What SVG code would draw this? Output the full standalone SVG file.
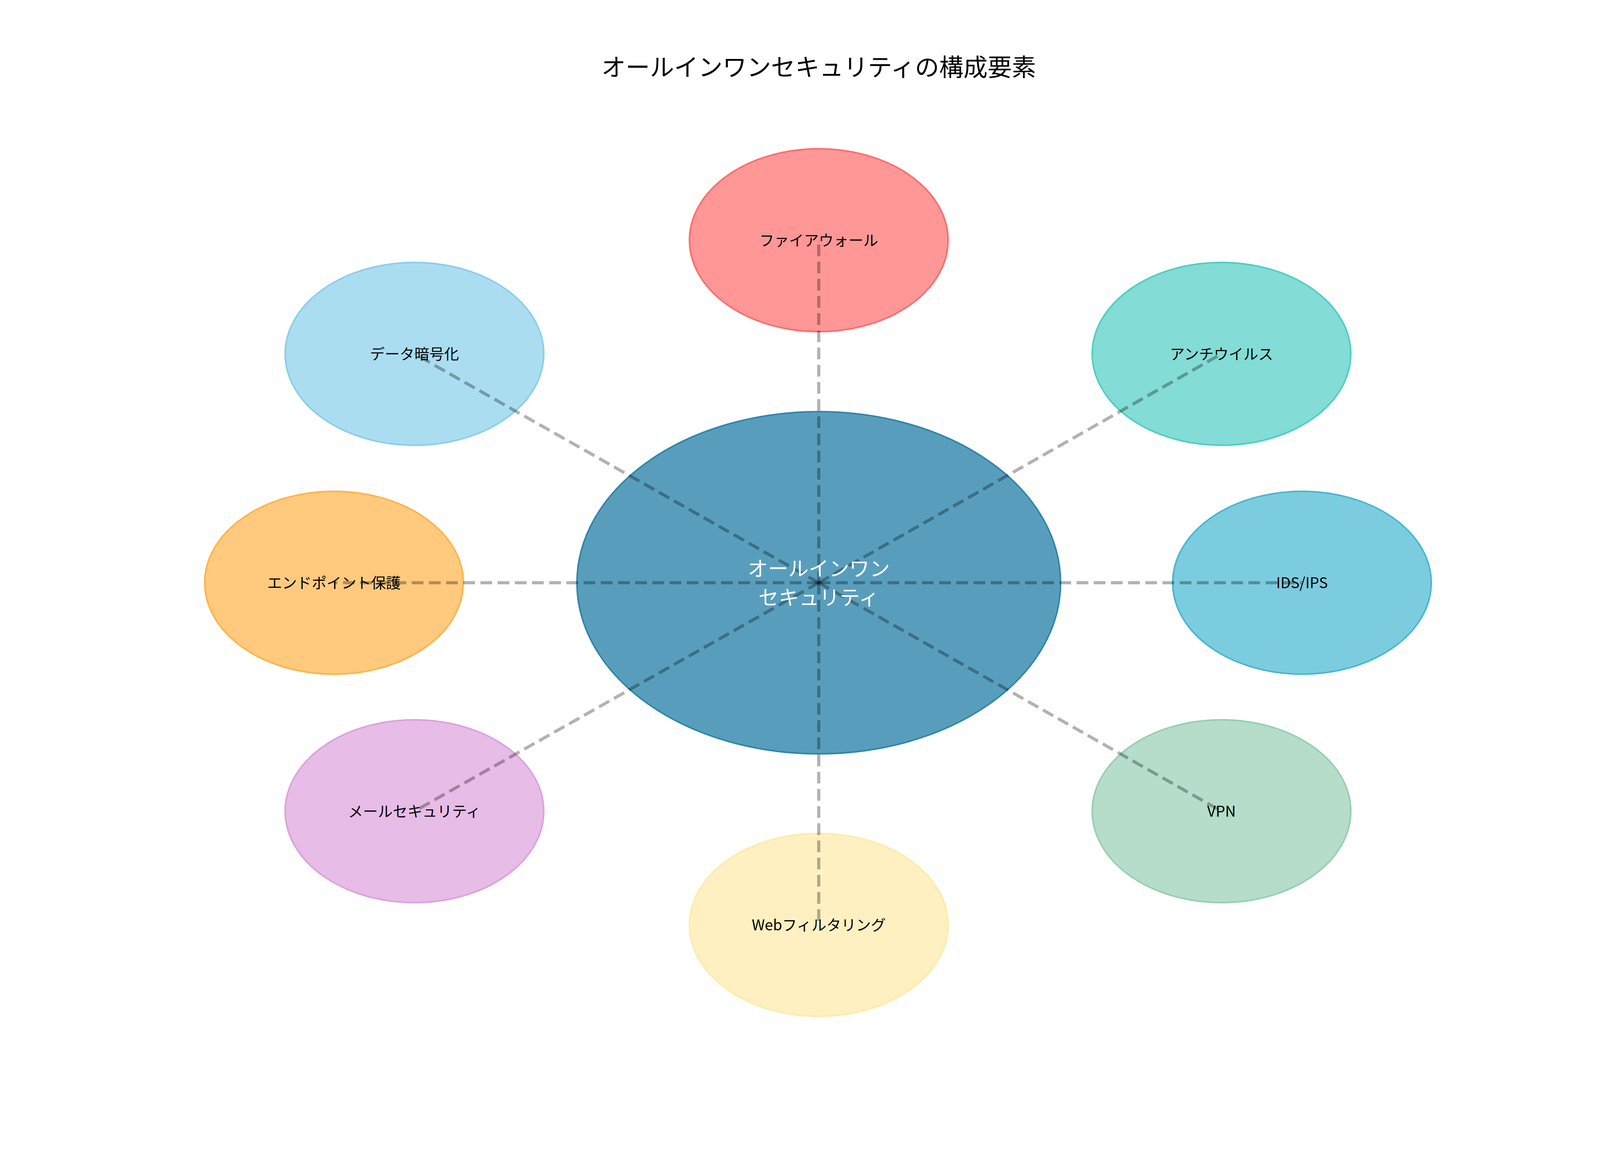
<svg xmlns="http://www.w3.org/2000/svg" width="4170" height="2970" viewBox="0 0 4170 2970">
<style>
text{font-family:"Noto Sans CJK JP","Liberation Sans",sans-serif;text-anchor:middle;dominant-baseline:central}
.lbl{font-size:38px;fill:#000}
.sat{stroke-width:4;fill-opacity:0.7}
.ln{stroke:#000;stroke-opacity:0.3;stroke-width:8;stroke-dasharray:30,14;fill:none}
</style>
<rect width="4170" height="2970" fill="#fff"/>
<text x="2096" y="168" font-size="62" fill="#000">オールインワンセキュリティの構成要素</text>
<g id="center"><ellipse cx="2096" cy="1492" rx="619" ry="438" fill="#2E86AB" fill-opacity="0.8" stroke="#2E86AB" stroke-width="4"/></g>
<g id="firewall"><ellipse class="sat" cx="2096" cy="615" rx="331" ry="234" fill="#FF6B6B" stroke="#FF6B6B"/></g>
<g id="antivirus"><ellipse class="sat" cx="3127" cy="906" rx="331" ry="234" fill="#4ECDC4" stroke="#4ECDC4"/></g>
<g id="idsips"><ellipse class="sat" cx="3333" cy="1492" rx="331" ry="234" fill="#45B7D1" stroke="#45B7D1"/></g>
<g id="vpn"><ellipse class="sat" cx="3127" cy="2077" rx="331" ry="234" fill="#96CEB4" stroke="#96CEB4"/></g>
<g id="web"><ellipse class="sat" cx="2096" cy="2368" rx="331" ry="234" fill="#FFEAA7" stroke="#FFEAA7"/></g>
<g id="mail"><ellipse class="sat" cx="1061" cy="2077" rx="331" ry="234" fill="#DDA0DD" stroke="#DDA0DD"/></g>
<g id="endpoint"><ellipse class="sat" cx="855" cy="1492" rx="331" ry="234" fill="#FFB347" stroke="#FFB347"/></g>
<g id="data"><ellipse class="sat" cx="1061" cy="906" rx="331" ry="234" fill="#87CEEB" stroke="#87CEEB"/></g>
<g id="connectors">
<line class="ln" x1="2096" y1="1492" x2="2096" y2="615"/>
<line class="ln" x1="2096" y1="1492" x2="3127" y2="906"/>
<line class="ln" x1="2096" y1="1492" x2="3333" y2="1492"/>
<line class="ln" x1="2096" y1="1492" x2="3127" y2="2077"/>
<line class="ln" x1="2096" y1="1492" x2="2096" y2="2368"/>
<line class="ln" x1="2096" y1="1492" x2="1061" y2="2077"/>
<line class="ln" x1="2096" y1="1492" x2="855" y2="1492"/>
<line class="ln" x1="2096" y1="1492" x2="1061" y2="906"/>
</g>
<g id="labels">
<text x="2096" y="1452" font-size="52" fill="#fff">オールインワン</text>
<text x="2096" y="1526" font-size="52" fill="#fff">セキュリティ</text>
<text class="lbl" x="2096" y="612">ファイアウォール</text>
<text class="lbl" x="3127" y="903">アンチウイルス</text>
<text class="lbl" x="3333" y="1489">IDS/IPS</text>
<text class="lbl" x="3127" y="2074">VPN</text>
<text class="lbl" x="2096" y="2365">Webフィルタリング</text>
<text class="lbl" x="1061" y="2074">メールセキュリティ</text>
<text class="lbl" x="855" y="1489">エンドポイント保護</text>
<text class="lbl" x="1061" y="903">データ暗号化</text>
</g>
</svg>
